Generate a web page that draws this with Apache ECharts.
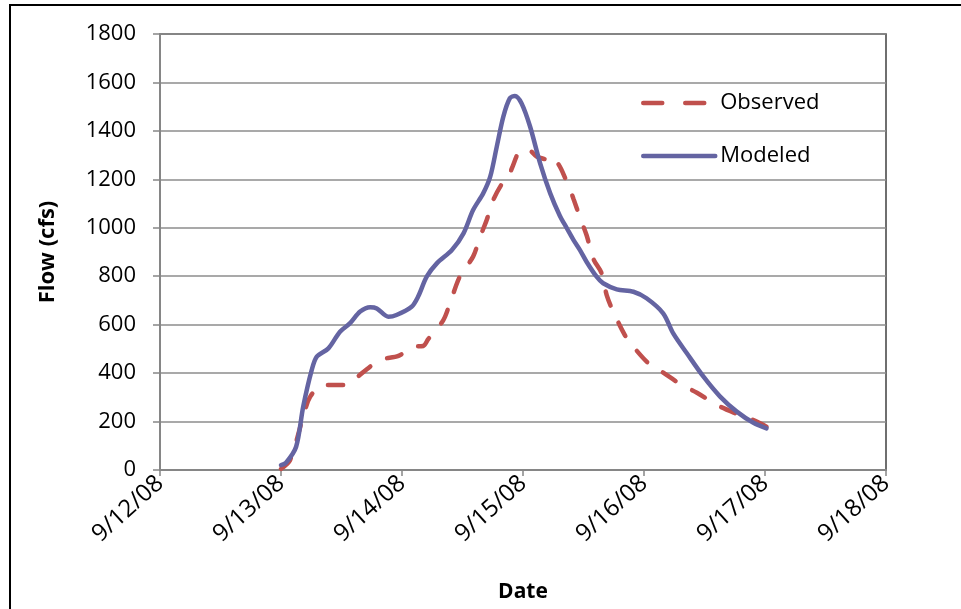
<!DOCTYPE html>
<html>
<head>
<meta charset="utf-8">
<script src="https://cdn.jsdelivr.net/npm/echarts@6/dist/echarts.min.js"></script>
<style>
html,body{margin:0;padding:0;background:#fff;}
#chart{width:961px;height:609px;}
</style>
</head>
<body>
<div id="chart"></div>
<script>
// Tick labels for the x axis (one per day, hours from 9/12/08 00:00)
var dateLabels = ['9/12/08', '9/13/08', '9/14/08', '9/15/08', '9/16/08', '9/17/08', '9/18/08'];

// Observed flow (cfs): hours since 9/12/08 00:00, values
var observedHours = [24, 25.8, 28.4, 29.8, 32.4, 37, 40, 43.6, 47.3, 50.2, 52.2, 53.2, 56.2, 57.5, 59.5, 62.1, 63.5, 64.8, 66.1, 68.1, 69.1, 69.8, 71.7, 73.4, 74.7, 76.7, 77.7, 78.4, 80.7, 82, 83.3, 84.6, 86, 87.6, 88.6, 89.9, 92.2, 93.6, 96.9, 99.5, 103.5, 106.5, 110.5, 113.8, 117.7, 120.3];
var observedFlow = [5, 41, 220, 303, 351, 351, 399, 454, 471, 509, 512, 540, 619, 688, 800, 881, 963, 1032, 1115, 1190, 1204, 1246, 1321, 1318, 1294, 1280, 1259, 1273, 1190, 1120, 1043, 970, 870, 812, 722, 654, 557, 516, 440, 406, 351, 319, 268, 237, 206, 179];

// Modeled flow (cfs)
var modeledHours = [24, 25, 27, 28.4, 30.1, 31.1, 33.4, 35.7, 37.7, 39.7, 41.7, 43, 45.3, 46.9, 49.9, 51.2, 52.9, 54.9, 57.9, 60.2, 62.1, 64.1, 65.5, 66.8, 68.1, 69.4, 70.4, 71.7, 73.4, 75.4, 77.4, 79.3, 80.7, 82, 83.3, 84.6, 86.6, 87.9, 90.6, 93.9, 96.5, 99.8, 101.8, 104.5, 107.8, 111.1, 114.4, 117.7, 120.3];
var modeledFlow = [20, 30, 96, 261, 413, 468, 502, 571, 606, 654, 672, 667, 633, 640, 674, 716, 798, 853, 908, 977, 1073, 1142, 1211, 1335, 1459, 1535, 1544, 1514, 1418, 1266, 1142, 1050, 998, 950, 908, 860, 798, 771, 746, 736, 709, 647, 564, 482, 385, 303, 241, 195, 172];

function zip(a, b) { return a.map(function (v, i) { return [v, b[i]]; }); }

var FONT = 'Open Sans';
var RED = '#C0504D', BLUE = '#6464A2';
var chart = echarts.init(document.getElementById('chart'));
chart.setOption({
  animation: false,
  backgroundColor: '#ffffff',
  graphic: [{
    type: 'rect',
    shape: { x: 10, y: 5, width: 1000, height: 700 },
    style: { fill: 'none', stroke: '#000', lineWidth: 2 },
    silent: true
  }],
  grid: {
    left: 160, right: 75, top: 34, bottom: 139,
    show: true, borderColor: '#404040', borderWidth: 1.5, backgroundColor: 'transparent'
  },
  legend: {
    orient: 'vertical',
    left: 636, top: 86,
    itemWidth: 72, itemHeight: 14, itemGap: 29,
    itemStyle: { opacity: 0, borderWidth: 0 },
    lineStyle: { width: 4.5, cap: 'round' },
    textStyle: { fontFamily: FONT, fontSize: 22, color: '#000', lineHeight: 24 },
    data: [
      { name: 'Observed', lineStyle: { color: RED, width: 4.5, type: [19, 23], cap: 'round' } },
      { name: 'Modeled', lineStyle: { color: BLUE, width: 4.5, type: 'solid', cap: 'round' } }
    ]
  },
  xAxis: {
    type: 'value', min: 0, max: 144, interval: 24,
    name: 'Date', nameLocation: 'middle', nameGap: 112,
    nameTextStyle: { fontFamily: FONT, fontSize: 21, fontWeight: 'bold', color: '#000' },
    axisLine: { show: true, lineStyle: { color: '#868686', width: 2 } },
    axisTick: { show: true, length: 6, lineStyle: { color: '#868686', width: 1.5 } },
    splitLine: { show: false },
    axisLabel: {
      rotate: 42, margin: 10,
      fontFamily: FONT, fontSize: 24, color: '#000',
      formatter: function (v) { return dateLabels[Math.round(v / 24)]; }
    }
  },
  yAxis: {
    type: 'value', min: 0, max: 1800, interval: 200,
    name: 'Flow (cfs)', nameLocation: 'middle', nameGap: 101,
    nameTextStyle: { fontFamily: FONT, fontSize: 22, fontWeight: 'bold', color: '#000' },
    axisLine: { show: true, lineStyle: { color: '#868686', width: 2 } },
    axisTick: { show: true, inside: false, length: 7, lineStyle: { color: '#868686', width: 1.5 } },
    splitLine: { show: true, lineStyle: { color: '#8c8c8c', width: 1.5 } },
    axisLabel: {
      margin: 24, fontFamily: FONT, fontSize: 22, color: '#000',
      formatter: function (v) { return String(v); }
    }
  },
  series: [{
    name: 'Observed', type: 'line', smooth: 0.3, symbol: 'none', showSymbol: false,
    data: zip(observedHours, observedFlow),
    lineStyle: { color: RED, width: 4.5, type: [15, 19], cap: 'round' },
    itemStyle: { color: RED }
  }, {
    name: 'Modeled', type: 'line', smooth: 0.3, symbol: 'none', showSymbol: false,
    data: zip(modeledHours, modeledFlow),
    lineStyle: { color: BLUE, width: 4.5, cap: 'round' },
    itemStyle: { color: BLUE }
  }]
});
</script>
</body>
</html>
